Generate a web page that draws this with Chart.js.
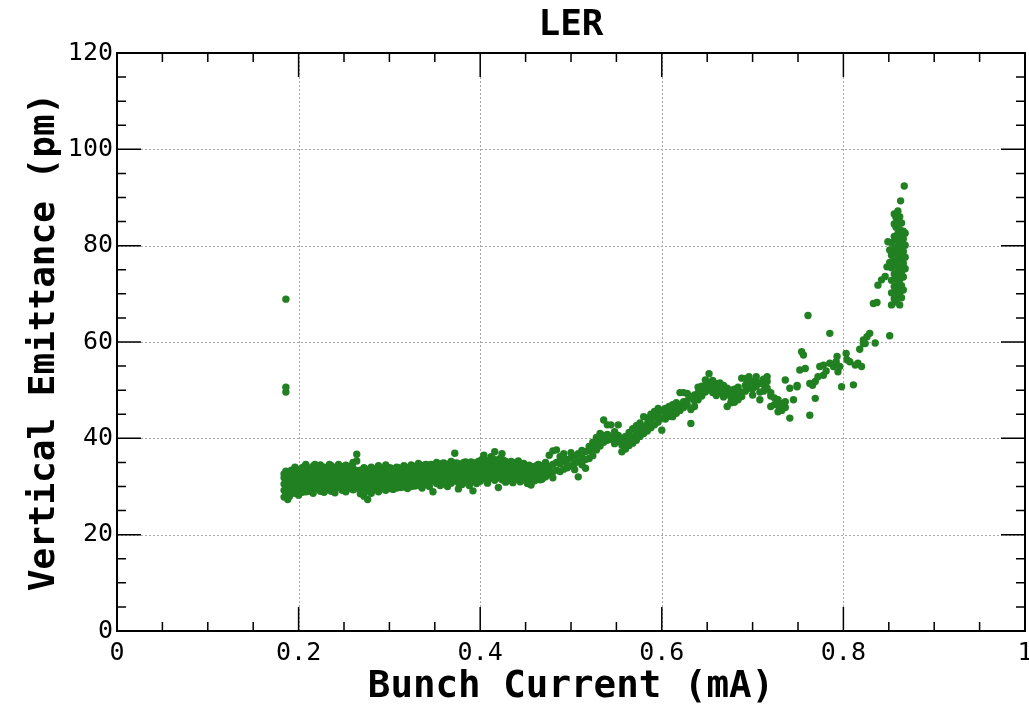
<!DOCTYPE html>
<html>
<head>
<meta charset="utf-8">
<script src="https://cdn.jsdelivr.net/npm/chart.js@4/dist/chart.umd.min.js"></script>
<style>
html,body{margin:0;padding:0;background:#fff;}
#wrap{width:1029px;height:707px;}
</style>
</head>
<body>
<div id="wrap"><canvas id="c" width="1029" height="707"></canvas></div>
<script>
// ---- Data: each entry is [bunch current (mA), [vertical emittance values (pm)]] ----
const lowCurrentOutliers = [
  [0.186, [68.9, 50.6, 49.6]]
];
const flatBand = [
  [0.184, [27.8, 29.2, 30.5, 31.8, 32.6]],
  [0.188, [28.4, 29.9, 31.2, 32.9, 27.3]],
  [0.192, [28.9, 30.3, 31.6, 33.4, 29.4]],
  [0.196, [28.6, 30.0, 31.4, 32.8, 34.0]],
  [0.200, [29.1, 30.6, 32.1, 33.5, 28.2]],
  [0.204, [29.4, 30.9, 32.4, 33.9, 28.8]],
  [0.208, [28.9, 30.3, 31.8, 33.1, 34.6]],
  [0.212, [29.6, 31.0, 32.5, 33.8, 29.0]],
  [0.216, [29.2, 30.7, 32.2, 34.2, 28.6]],
  [0.220, [29.5, 31.1, 32.6, 33.6, 30.0]],
  [0.224, [29.0, 30.4, 31.9, 33.3, 34.5]],
  [0.228, [29.7, 31.2, 32.7, 34.0, 28.8]],
  [0.232, [29.3, 30.8, 32.3, 33.7, 30.2]],
  [0.236, [29.8, 31.3, 32.9, 34.3, 29.0]],
  [0.240, [29.4, 30.9, 32.4, 33.9, 28.7]],
  [0.244, [29.9, 31.5, 33.0, 34.6, 30.4]],
  [0.248, [29.5, 31.0, 32.5, 34.1, 29.2]],
  [0.252, [30.0, 31.6, 33.1, 34.4, 28.9]],
  [0.256, [29.6, 31.1, 32.7, 34.0, 30.5]],
  [0.260, [29.3, 30.8, 32.3, 33.8, 35.0]],
  [0.264, [30.2, 31.8, 33.3, 36.7, 35.3]],
  [0.268, [29.0, 30.5, 32.0, 33.4, 28.5]],
  [0.272, [29.6, 31.2, 32.6, 33.9, 28.0]],
  [0.276, [29.1, 30.7, 32.2, 27.3, 33.3]],
  [0.280, [29.8, 31.3, 32.8, 34.0, 28.6]],
  [0.284, [29.4, 30.9, 32.5, 33.6, 30.1]],
  [0.288, [29.9, 31.5, 33.0, 34.3, 28.9]],
  [0.292, [29.5, 31.0, 32.4, 33.7, 30.3]],
  [0.296, [30.0, 31.6, 33.1, 29.2, 34.5]],
  [0.300, [29.6, 31.2, 32.7, 33.9, 30.6]],
  [0.304, [30.1, 31.7, 33.2, 29.4]],
  [0.308, [29.7, 31.3, 32.8, 34.0]],
  [0.312, [30.3, 31.9, 33.4, 29.8]],
  [0.316, [29.9, 31.5, 33.0, 34.3]],
  [0.320, [30.4, 32.0, 33.5, 29.6]],
  [0.324, [30.0, 31.6, 33.1, 34.5]],
  [0.328, [30.6, 32.2, 33.7, 30.1]],
  [0.332, [30.2, 31.8, 33.3, 34.8]],
  [0.336, [30.8, 32.4, 33.9, 29.7]],
  [0.340, [30.4, 32.0, 33.5, 34.6]],
  [0.344, [30.9, 32.5, 34.0, 30.0]],
  [0.348, [28.9, 31.2, 32.8, 34.3]],
  [0.352, [30.6, 32.2, 33.7, 35.0]],
  [0.356, [31.0, 32.6, 34.1, 30.2]],
  [0.360, [30.5, 32.1, 33.6, 34.9]],
  [0.364, [31.1, 32.7, 34.3, 30.0]],
  [0.368, [30.7, 32.3, 33.8, 35.2]],
  [0.372, [36.9, 31.2, 32.8, 34.4]],
  [0.376, [29.5, 30.8, 32.4, 33.9]],
  [0.380, [31.3, 32.9, 34.5, 30.4]],
  [0.384, [30.9, 32.5, 34.0, 35.1]],
  [0.388, [31.4, 33.0, 34.6, 30.2]],
  [0.392, [29.1, 31.0, 32.6, 34.1]],
  [0.396, [31.5, 33.1, 34.7, 30.6]],
  [0.400, [31.1, 32.7, 34.2, 35.3]],
  [0.404, [31.6, 33.2, 34.8, 36.5]],
  [0.408, [31.2, 32.8, 34.4, 30.7]],
  [0.412, [31.7, 33.3, 35.0, 36.2]],
  [0.416, [31.3, 32.9, 34.5, 37.2]],
  [0.420, [29.8, 31.8, 33.4, 35.1]],
  [0.424, [31.4, 33.0, 34.6, 36.8]],
  [0.428, [31.9, 33.5, 35.2, 30.9]],
  [0.432, [31.5, 33.1, 34.7]],
  [0.436, [32.0, 33.6, 35.0, 30.8]],
  [0.440, [31.6, 33.2, 34.6]],
  [0.444, [32.1, 33.7, 31.0]],
  [0.448, [31.7, 33.3, 34.8]],
  [0.452, [32.2, 33.8, 30.6]],
  [0.456, [30.3, 31.8, 33.4]],
  [0.460, [32.3, 33.9, 31.2]],
  [0.464, [31.9, 33.5, 34.6]],
  [0.468, [32.4, 34.0, 31.5]],
  [0.472, [32.0, 33.6, 35.0]]
];
const flatBandFill = [
  [0.186, [28.6, 30.9, 33.2]],
  [0.190, [30.6, 32.2, 28.0]],
  [0.194, [29.6, 31.0, 32.5]],
  [0.198, [29.4, 31.9, 33.1]],
  [0.202, [30.0, 31.4, 32.8]],
  [0.206, [29.8, 31.2, 34.1]],
  [0.210, [30.6, 32.0, 33.4]],
  [0.214, [29.9, 31.6, 33.0]],
  [0.218, [30.3, 31.8, 34.6]],
  [0.222, [29.8, 32.3, 34.0]],
  [0.226, [30.6, 32.4, 33.7]],
  [0.230, [30.1, 31.5, 33.0]],
  [0.234, [30.7, 32.0, 34.6]],
  [0.238, [30.2, 31.9, 33.2]],
  [0.242, [30.5, 32.1, 33.6]],
  [0.246, [30.3, 32.2, 33.8]],
  [0.250, [30.8, 32.3, 33.6]],
  [0.254, [30.4, 31.9, 33.4]],
  [0.258, [30.1, 31.7, 34.3]],
  [0.262, [29.6, 31.4, 32.9]],
  [0.266, [29.8, 31.3, 32.7]],
  [0.270, [30.2, 31.8, 33.2]],
  [0.274, [30.0, 31.6, 33.0]],
  [0.278, [29.6, 31.9, 33.6]],
  [0.282, [30.4, 32.0, 33.2]],
  [0.286, [30.3, 31.8, 33.1]],
  [0.290, [30.6, 32.2, 33.5]],
  [0.294, [30.5, 31.9, 33.3]],
  [0.298, [30.6, 32.3, 33.5]],
  [0.302, [30.9, 32.4, 33.8]],
  [0.306, [30.6, 32.1, 33.5]],
  [0.310, [30.9, 32.5, 33.9]],
  [0.314, [30.7, 32.3, 33.7]],
  [0.318, [31.1, 32.6, 34.0]],
  [0.322, [30.9, 32.4, 33.8]],
  [0.326, [31.3, 32.8, 34.2]],
  [0.330, [31.0, 32.6, 34.1]],
  [0.334, [31.5, 33.0, 34.4]],
  [0.338, [31.2, 32.9, 34.3]],
  [0.342, [31.6, 33.1, 34.5]],
  [0.346, [31.4, 33.2, 34.6]],
  [0.350, [31.8, 33.4, 34.4]],
  [0.354, [31.4, 33.0, 34.6]],
  [0.358, [31.9, 33.4, 34.8]],
  [0.362, [31.6, 33.1, 34.5]],
  [0.366, [31.9, 33.5, 34.7]],
  [0.370, [31.7, 33.3, 34.9]],
  [0.374, [31.9, 33.4, 34.9]],
  [0.378, [31.6, 33.1, 34.7]],
  [0.382, [32.0, 33.6, 35.0]],
  [0.386, [31.8, 33.4, 34.8]],
  [0.390, [32.2, 33.7, 35.1]],
  [0.394, [31.9, 33.5, 34.9]],
  [0.398, [32.3, 33.8, 35.2]],
  [0.402, [32.1, 33.7, 35.6]],
  [0.406, [32.4, 33.9, 35.3]],
  [0.410, [32.0, 33.8, 35.4]],
  [0.414, [32.5, 34.1, 35.7]],
  [0.418, [32.2, 33.9, 35.5]],
  [0.422, [32.6, 34.2, 35.8]],
  [0.426, [32.3, 34.0, 35.4]],
  [0.430, [32.8, 34.3, 31.2]],
  [0.434, [32.4, 34.0, 35.2]],
  [0.438, [32.9, 34.4, 31.5]],
  [0.442, [32.6, 34.2, 35.3]],
  [0.446, [32.8, 34.3, 31.4]],
  [0.450, [32.5, 34.0, 31.3]],
  [0.454, [32.9, 34.4, 31.0]],
  [0.458, [32.6, 34.1, 31.6]],
  [0.462, [32.9, 34.3, 31.8]],
  [0.466, [32.7, 33.9, 31.4]],
  [0.470, [33.1, 34.5, 31.9]]
];
const risingBand = [
  [0.476, [32.6, 34.1, 36.5]],
  [0.480, [33.0, 34.6, 37.4, 31.8]],
  [0.484, [33.4, 35.0, 37.6]],
  [0.488, [33.1, 34.7, 36.2]],
  [0.492, [33.6, 35.3, 36.8]],
  [0.496, [33.9, 35.6, 34.2]],
  [0.500, [34.3, 35.9, 37.0]],
  [0.504, [34.8, 36.3, 33.5]],
  [0.508, [32.0, 35.2, 36.8]],
  [0.512, [34.5, 36.0, 37.5]],
  [0.516, [33.8, 35.6, 37.2]],
  [0.520, [35.8, 37.4, 38.3]],
  [0.524, [36.4, 38.0, 39.2]],
  [0.528, [37.6, 39.0, 40.2]],
  [0.532, [38.4, 39.8, 41.0]],
  [0.536, [39.2, 40.6, 43.8]],
  [0.540, [39.6, 40.8, 42.8]],
  [0.544, [39.8, 40.5, 42.8]],
  [0.548, [38.9, 40.2, 41.4]],
  [0.552, [39.4, 40.6, 42.8]],
  [0.556, [37.2, 38.6, 40.0]],
  [0.560, [37.8, 38.9, 40.4]],
  [0.564, [38.5, 39.6, 41.2]],
  [0.568, [39.0, 40.3, 42.0]],
  [0.572, [39.6, 41.0, 42.6]],
  [0.576, [40.4, 41.8, 43.2]],
  [0.580, [41.0, 42.4, 44.5]],
  [0.584, [41.5, 43.0, 44.2]],
  [0.588, [42.2, 43.8, 45.0]],
  [0.592, [42.8, 44.4, 45.6]],
  [0.596, [43.4, 45.0, 46.2]],
  [0.600, [41.7, 44.2, 45.8]],
  [0.604, [44.0, 45.4, 46.2]],
  [0.608, [44.6, 45.2, 46.6]],
  [0.612, [44.5, 45.8, 47.0]],
  [0.616, [45.2, 46.4, 47.4]],
  [0.620, [45.8, 47.0, 49.5]],
  [0.624, [46.4, 47.6, 49.5]],
  [0.628, [46.9, 47.8, 49.3]],
  [0.632, [43.1, 46.0, 48.6]],
  [0.636, [46.6, 47.8, 49.0]],
  [0.640, [48.0, 49.4, 50.6]],
  [0.644, [48.8, 50.0, 50.8]],
  [0.648, [49.6, 50.8, 52.1]],
  [0.652, [50.2, 51.6, 53.4]],
  [0.656, [49.5, 50.8, 52.0]],
  [0.660, [48.9, 50.2, 51.4]],
  [0.664, [49.4, 50.6, 51.5]],
  [0.668, [48.6, 49.8, 51.0]],
  [0.672, [49.3, 50.4, 46.6]],
  [0.676, [47.4, 48.6, 50.0]],
  [0.680, [47.5, 48.8, 50.2]],
  [0.684, [48.0, 49.2, 50.6]],
  [0.688, [48.7, 49.6, 52.5]],
  [0.692, [49.8, 51.0, 52.4]],
  [0.696, [50.4, 51.6, 52.8]],
  [0.700, [49.0, 50.3, 51.8]],
  [0.704, [50.8, 52.0, 52.8]],
  [0.708, [48.0, 49.6, 51.4]],
  [0.712, [49.8, 51.2, 52.3]],
  [0.716, [50.4, 51.8, 52.8]],
  [0.720, [46.6, 48.8, 49.5]],
  [0.724, [47.0, 48.4]],
  [0.728, [45.5, 46.8, 48.0]],
  [0.732, [45.8, 47.2]],
  [0.736, [46.4, 47.6, 52.1]],
  [0.741, [50.4, 44.2]],
  [0.745, [48.0]],
  [0.749, [50.7, 51.0]],
  [0.752, [54.2]],
  [0.754, [58.0]],
  [0.756, [57.3]],
  [0.758, [54.5]],
  [0.761, [65.5]],
  [0.763, [51.4, 44.8]],
  [0.766, [51.0]],
  [0.769, [51.8, 48.3]],
  [0.772, [52.8]],
  [0.774, [54.9]],
  [0.778, [53.1, 55.2]],
  [0.781, [54.0]],
  [0.785, [55.6, 61.8]],
  [0.789, [54.9]],
  [0.792, [55.9]],
  [0.793, [57.0]],
  [0.794, [53.8]],
  [0.796, [54.9]],
  [0.798, [50.7]],
  [0.803, [57.6]],
  [0.804, [56.3]],
  [0.807, [55.9]],
  [0.811, [51.1]],
  [0.813, [55.2]],
  [0.816, [55.6]],
  [0.818, [58.5]],
  [0.820, [54.9]],
  [0.822, [59.7, 60.4]],
  [0.824, [59.7]],
  [0.826, [61.1]],
  [0.829, [61.8]],
  [0.835, [59.8]]
];
const highCurrentBand = [
  [0.833, [68.0]],
  [0.837, [68.2]],
  [0.838, [71.8]],
  [0.842, [72.9]],
  [0.846, [73.6]],
  [0.848, [75.6]],
  [0.849, [80.8]],
  [0.851, [61.3, 76.5, 79.1]],
  [0.853, [67.7, 70.2, 72.8, 75.4, 78.0, 80.6]],
  [0.856, [69.0, 71.5, 74.1, 76.7, 79.3, 81.9, 84.5, 86.6]],
  [0.858, [68.3, 70.9, 73.4, 76.0, 78.6, 81.2, 83.8, 85.8]],
  [0.860, [69.6, 72.1, 74.7, 77.3, 79.9, 82.5, 85.1, 87.2]],
  [0.862, [67.7, 70.3, 72.9, 75.5, 78.1, 80.7, 83.3, 86.0]],
  [0.863, [89.3]],
  [0.864, [69.2, 71.7, 74.3, 76.9, 79.5, 82.1, 84.7]],
  [0.866, [70.8, 73.5, 76.3, 78.8, 81.4, 83.0]],
  [0.867, [92.4]],
  [0.868, [75.2, 77.6, 80.1, 82.6]]
];

// ---- Axes ----
const xTickValues = [0, 0.2, 0.4, 0.6, 0.8, 1];
const xTickLabels = ['0', '0.2', '0.4', '0.6', '0.8', '1'];
const xMinorValues = [0.05, 0.1, 0.15, 0.25, 0.3, 0.35, 0.45, 0.5, 0.55, 0.65, 0.7, 0.75, 0.85, 0.9, 0.95];
const yTickValues = [0, 20, 40, 60, 80, 100, 120];
const yTickLabels = ['0', '20', '40', '60', '80', '100', '120'];
const yMinorValues = [5, 10, 15, 25, 30, 35, 45, 50, 55, 65, 70, 75, 85, 90, 95, 105, 110, 115];

const chartTitle = 'LER';
const xTitle = 'Bunch Current (mA)';
const yTitle = 'Vertical Emittance (pm)';

function toPoints(groups) {
  const out = [];
  for (const [cur, vals] of groups) for (const v of vals) out.push({x: cur, y: v});
  return out;
}
const allPoints = [].concat(
  toPoints(lowCurrentOutliers), toPoints(flatBand), toPoints(flatBandFill),
  toPoints(risingBand), toPoints(highCurrentBand)
);

const MONO = "'DejaVu Sans Mono', 'Liberation Mono', monospace";

const frame = {
  id: 'frame',
  beforeDatasetsDraw(chart) {
    const {ctx, chartArea: a, scales: {x, y}} = chart;
    ctx.save();
    ctx.strokeStyle = '#a8a8a8';
    ctx.lineWidth = 1;
    ctx.setLineDash([2, 2]);
    for (const v of xTickValues) {
      const px = Math.round(x.getPixelForValue(v)) + 0.5;
      if (px <= a.left + 1 || px >= a.right - 1) continue;
      ctx.beginPath(); ctx.moveTo(px, a.top); ctx.lineTo(px, a.bottom); ctx.stroke();
    }
    for (const v of yTickValues) {
      const py = Math.round(y.getPixelForValue(v)) + 0.5;
      if (py <= a.top + 1 || py >= a.bottom - 1) continue;
      ctx.beginPath(); ctx.moveTo(a.left, py); ctx.lineTo(a.right, py); ctx.stroke();
    }
    ctx.restore();
  },
  afterDatasetsDraw(chart) {
    const {ctx, chartArea: a, scales: {x, y}} = chart;
    ctx.save();
    ctx.strokeStyle = '#000';
    ctx.setLineDash([]);
    ctx.lineWidth = 1.5;
    const major = 24, minor = 9;
    const xt = (v, len) => {
      const px = x.getPixelForValue(v);
      ctx.beginPath();
      ctx.moveTo(px, a.bottom); ctx.lineTo(px, a.bottom - len);
      ctx.moveTo(px, a.top); ctx.lineTo(px, a.top + len);
      ctx.stroke();
    };
    const yt = (v, len) => {
      const py = y.getPixelForValue(v);
      ctx.beginPath();
      ctx.moveTo(a.left, py); ctx.lineTo(a.left + len, py);
      ctx.moveTo(a.right, py); ctx.lineTo(a.right - len, py);
      ctx.stroke();
    };
    xTickValues.forEach(v => xt(v, major));
    xMinorValues.forEach(v => xt(v, minor));
    yTickValues.forEach(v => yt(v, major));
    yMinorValues.forEach(v => yt(v, minor));
    ctx.lineWidth = 2;
    ctx.strokeRect(a.left, a.top, a.right - a.left, a.bottom - a.top);
    ctx.restore();
  }
};

new Chart(document.getElementById('c'), {
  type: 'scatter',
  data: {
    datasets: [{
      data: allPoints,
      backgroundColor: '#218021',
      borderWidth: 0,
      pointRadius: 3.7,
      pointHoverRadius: 3.7
    }]
  },
  options: {
    responsive: false,
    animation: false,
    devicePixelRatio: 1,
    layout: {padding: {left: 0, right: 4, top: 0, bottom: 0}},
    plugins: {
      legend: {display: false},
      tooltip: {enabled: false},
      title: {
        display: true,
        fullSize: false,
        text: chartTitle,
        color: '#000',
        font: {family: MONO, weight: 'bold', size: 36, lineHeight: 1.2},
        padding: {top: 4, bottom: 5.8}
      }
    },
    scales: {
      x: {
        type: 'linear',
        min: 0, max: 1,
        afterBuildTicks: s => { s.ticks = xTickValues.map(v => ({value: v})); },
        afterFit: s => { s.height = 76; s.paddingLeft = 0; s.paddingRight = 0; },
        grid: {display: false, drawTicks: false},
        border: {display: false},
        ticks: {
          autoSkip: false, maxRotation: 0, minRotation: 0,
          padding: 9.5,
          color: '#000',
          font: {family: MONO, size: 25, lineHeight: 1},
          callback: (v, i) => xTickLabels[i]
        },
        title: {
          display: true, text: xTitle, color: '#000',
          font: {family: MONO, weight: 'bold', size: 37.5, lineHeight: 1},
          padding: {top: 0, bottom: 1.3}
        }
      },
      y: {
        type: 'linear',
        min: 0, max: 120,
        afterBuildTicks: s => { s.ticks = yTickValues.map(v => ({value: v})); },
        afterFit: s => { s.width = 117; s.paddingTop = 0; s.paddingBottom = 0; },
        grid: {display: false, drawTicks: false},
        border: {display: false},
        ticks: {
          autoSkip: false,
          padding: 4,
          color: '#000',
          font: {family: MONO, size: 25, lineHeight: 1},
          callback: (v, i) => yTickLabels[i]
        },
        title: {
          display: true, text: yTitle, color: '#000',
          font: {family: MONO, weight: 'bold', size: 36, lineHeight: 1},
          padding: {top: 26.2, bottom: 0}
        }
      }
    }
  },
  plugins: [frame]
});
</script>
</body>
</html>
